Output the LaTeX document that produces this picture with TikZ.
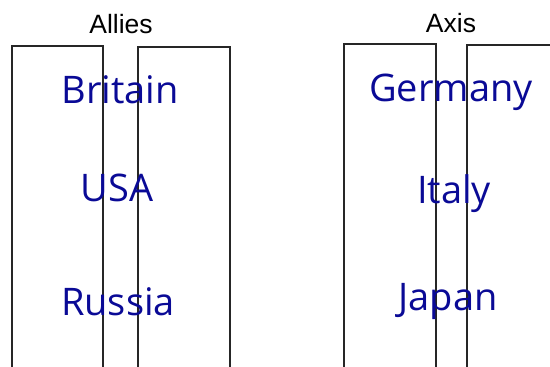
\documentclass[tikz,border=0pt]{standalone}
\usepackage{fontspec}
\setmainfont{Liberation Sans}
\newfontfamily\handfont{Open Sans}
\definecolor{inkblue}{RGB}{10,10,150}

\begin{document}
\begin{tikzpicture}[
  x=1pt, y=-1pt,
  card/.style={draw=black!85, line width=1.4pt},
  side/.style={anchor=base, font=\fontsize{26.5}{32}\selectfont, text=black, inner sep=0pt},
  country/.style={anchor=base, font=\handfont\fontsize{38}{46}\selectfont, text=inkblue, inner sep=0pt}
]
\useasboundingbox (0,0) rectangle (550,367);

% Allies cards
\draw[card] (12,367) -- (12,46) -- (103,46) -- (103,367);
\draw[card] (138,367) -- (138,47) -- (230,47) -- (230,367);

% Axis cards
\draw[card] (344,367) -- (344,44) -- (436,44) -- (436,367);
\draw[card] (467,367) -- (467,45) -- (550,45);

% headings
\node[side] (allies) at (121,33) {Allies};
\node[side] (axis) at (451,32) {Axis};

% countries
\node[country] (britain) at (120,103) {Britain};
\node[country] (usa) at (117,201) {USA};
\node[country] (russia) at (118,315) {Russia};
\node[country] (germany) at (451,101) {Germany};
\node[country] (italy) at (454,203) {Italy};
\node[country] (japan) at (448,310) {Japan};

\end{tikzpicture}
\end{document}
